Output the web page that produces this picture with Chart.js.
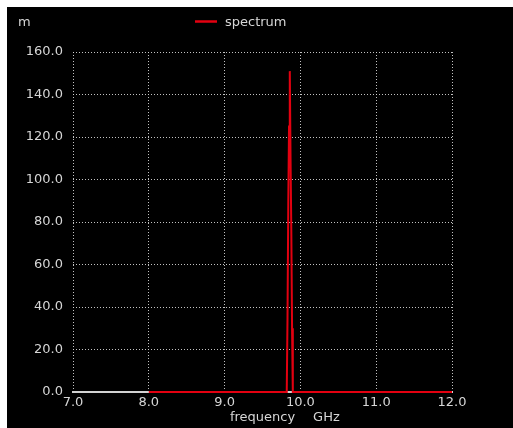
<!DOCTYPE html>
<html>
<head>
<meta charset="utf-8">
<script src="https://cdn.jsdelivr.net/npm/chart.js@4.4.0/dist/chart.umd.min.js"></script>
<style>
  html, body { margin: 0; padding: 0; background: #fff; }
  #frame { position: absolute; left: 7px; top: 7px; width: 506px; height: 421px; background: #000; }
  #plot { display: block; }
</style>
</head>
<body>
<div id="frame"><canvas id="plot" width="506" height="421"></canvas></div>
<script>
// Measured spectrum (frequency in GHz, magnitude in m)
const freqGHz  = [8.00, 9.82, 9.83, 9.84, 9.85, 9.86, 9.87, 9.88, 9.89, 9.90, 12.00];
const spectrum = [0,    0,    35,   88,   125,  151,  110,  76,   30,   0,    0];

const xTickValues = [7, 8, 9, 10, 11, 12];
const yTickValues = [0, 20, 40, 60, 80, 100, 120, 140, 160];

const seriesLabel = 'spectrum';
const xTitle = 'frequency';
const xUnit = 'GHz';
const yUnit = 'm';

const TEXT = '#d6d6d6';
const GRID = 'rgba(215,215,215,0.9)';
const RED = '#e30010';
const FONT = { family: 'DejaVu Sans', size: 13 };

const points = freqGHz.map((f, i) => ({ x: f, y: spectrum[i] }));

// Legend, axis unit and y label drawn on the canvas after the chart
const annotations = {
  id: 'annotations',
  afterDraw(chart) {
    const ctx = chart.ctx;
    const xs = chart.scales.x;
    ctx.save();
    ctx.font = FONT.size + 'px ' + FONT.family;
    ctx.fillStyle = TEXT;
    ctx.textBaseline = 'middle';

    // y unit in the top-left corner
    ctx.textAlign = 'left';
    ctx.fillText(yUnit, 11, 16);

    // legend entry
    const ds = chart.data.datasets[0];
    ctx.strokeStyle = ds.borderColor;
    ctx.lineWidth = 2.5;
    ctx.beginPath();
    ctx.moveTo(188, 14.5);
    ctx.lineTo(210, 14.5);
    ctx.stroke();
    ctx.fillText(ds.label, 218, 15.5);

    // unit after the x-axis title
    const cx = (xs.left + xs.right) / 2;
    const w = ctx.measureText(xTitle).width;
    const ty = xs.bottom - 3 - (FONT.size * 1.2) / 2;
    ctx.fillText(xUnit, cx + w / 2 + 18, ty);
    ctx.restore();
  }
};

new Chart(document.getElementById('plot'), {
  type: 'scatter',
  data: {
    datasets: [{
      label: seriesLabel,
      data: points,
      showLine: true,
      borderColor: RED,
      backgroundColor: RED,
      borderWidth: 2,
      pointRadius: 0,
      tension: 0,
      clip: false
    }]
  },
  options: {
    responsive: false,
    animation: false,
    layout: { padding: { left: 0, top: 45, right: 61, bottom: 0 } },
    plugins: {
      legend: { display: false },
      tooltip: { enabled: false }
    },
    scales: {
      x: {
        type: 'linear',
        min: 7, max: 12,
        afterBuildTicks(s) { s.ticks = xTickValues.map(v => ({ value: v })); },
        afterFit(s) { s.height = 36; },
        ticks: {
          color: TEXT, font: FONT, padding: 3, maxRotation: 0,
          callback: v => Number(v).toFixed(1)
        },
        grid: { color: GRID, drawTicks: false, lineWidth: 1 },
        border: { display: true, color: '#d2d2d2', width: 2, dash: [1, 2] },
        title: { display: true, text: xTitle, color: TEXT, font: FONT, padding: { top: 0, bottom: 3 } }
      },
      y: {
        type: 'linear',
        min: 0, max: 160,
        afterBuildTicks(s) { s.ticks = yTickValues.map(v => ({ value: v })); },
        afterFit(s) { s.width = 66; },
        ticks: {
          color: TEXT, font: FONT, padding: 10,
          callback: v => Number(v).toFixed(1)
        },
        grid: { color: GRID, drawTicks: false, lineWidth: 1 },
        border: { display: false, dash: [1, 2] }
      }
    }
  },
  plugins: [annotations]
});
</script>
</body>
</html>
